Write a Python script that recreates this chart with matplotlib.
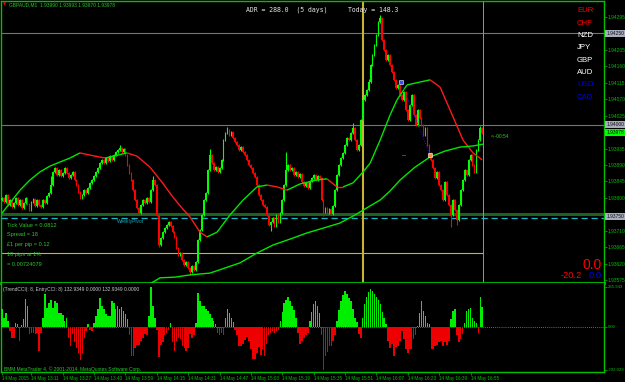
import matplotlib
matplotlib.use('Agg')
import matplotlib.pyplot as plt
from matplotlib.collections import LineCollection
from matplotlib.transforms import blended_transform_factory

# ---- values (GBPAUD M1, 14 May 2015, from 12:56) ----
title_txt = 'GBPAUD,M1  1.93990 1.93993 1.93970 1.93978'
first_open = 1.93795
closes = [
    1.93800, 1.93789, 1.93808, 1.93780, 1.93794, 1.93775, 1.93786, 1.93800, 1.93780, 1.93794,
    1.93772, 1.93786, 1.93800, 1.93783, 1.93767, 1.93789, 1.93797, 1.93778, 1.93794, 1.93780,
    1.93775, 1.93794, 1.93786, 1.93805, 1.93813, 1.93835, 1.93871, 1.93882, 1.93862, 1.93876,
    1.93860, 1.93868, 1.93882, 1.93868, 1.93854, 1.93862, 1.93871, 1.93849, 1.93835, 1.93816,
    1.93800, 1.93808, 1.93821, 1.93813, 1.93827, 1.93841, 1.93849, 1.93860, 1.93871, 1.93882,
    1.93895, 1.93904, 1.93895, 1.93909, 1.93901, 1.93915, 1.93904, 1.93917, 1.93925, 1.93931,
    1.93936, 1.93925, 1.93934, 1.93917, 1.93890, 1.93868, 1.93849, 1.93821, 1.93794, 1.93772,
    1.93758, 1.93780, 1.93794, 1.93786, 1.93800, 1.93789, 1.93821, 1.93849, 1.93835, 1.93753,
    1.93671, 1.93690, 1.93706, 1.93717, 1.93726, 1.93734, 1.93723, 1.93706, 1.93693, 1.93663,
    1.93644, 1.93649, 1.93630, 1.93616, 1.93624, 1.93608, 1.93597, 1.93613, 1.93602, 1.93624,
    1.93685, 1.93712, 1.93753, 1.93794, 1.93813, 1.93876, 1.93917, 1.93895, 1.93876, 1.93884,
    1.93871, 1.93882, 1.93904, 1.93958, 1.93977, 1.93986, 1.93972, 1.93980, 1.93964, 1.93953,
    1.93945, 1.93931, 1.93939, 1.93925, 1.93917, 1.93904, 1.93890, 1.93882, 1.93868, 1.93857,
    1.93835, 1.93808, 1.93794, 1.93780, 1.93775, 1.93753, 1.93726, 1.93734, 1.93745, 1.93723,
    1.93753, 1.93734, 1.93758, 1.93794, 1.93835, 1.93876, 1.93890, 1.93876, 1.93882, 1.93862,
    1.93871, 1.93857, 1.93865, 1.93843, 1.93832, 1.93841, 1.93827, 1.93846, 1.93854, 1.93862,
    1.93849, 1.93860, 1.93854, 1.93794, 1.93761, 1.93772, 1.93758, 1.93769, 1.93756, 1.93778,
    1.93821, 1.93862, 1.93890, 1.93909, 1.93923, 1.93945, 1.93964, 1.93958, 1.93977, 1.93991,
    1.93958, 1.93931, 1.93945, 1.94013, 1.94068, 1.94081, 1.94095, 1.94117, 1.94164, 1.94191,
    1.94218, 1.94246, 1.94281, 1.94292, 1.94232, 1.94205, 1.94177, 1.94191, 1.94164, 1.94144,
    1.94123, 1.94101, 1.94109, 1.94081, 1.94068, 1.94090, 1.94040, 1.94013, 1.94054, 1.94081,
    1.94027, 1.93999, 1.94040, 1.94019, 1.93999, 1.93972, 1.93991, 1.93945, 1.93923, 1.93904,
    1.93882, 1.93854, 1.93871, 1.93835, 1.93821, 1.93794, 1.93843, 1.93808, 1.93780, 1.93753,
    1.93794, 1.93767, 1.93739, 1.93780, 1.93821, 1.93849, 1.93876, 1.93862, 1.93904, 1.93917,
    1.93890, 1.93871, 1.93931, 1.93958, 1.93991, 1.93978,
]
high_spikes = {25: 1.93860, 60: 1.93945, 77: 1.93860, 106: 1.93935, 115: 1.93995,
               145: 1.93925, 179: 1.94005, 187: 1.94125, 193: 1.94300, 244: 1.93998}
low_spikes = {80: 1.93665, 96: 1.93588, 137: 1.93710, 164: 1.93750, 229: 1.93720, 232: 1.93725}

fast_ma_idx = [0, 4.1, 9.2, 14.3, 19.4, 24.5, 29.6, 34.7, 39.8, 44.9, 52.6, 59.2, 63.8, 68.9,
               75.5, 81.6, 87.2, 91.8, 95.9, 101, 104.6, 109.7, 116.3, 123, 130.1, 135.2, 140.3,
               145.4, 152, 160.7, 165.8, 170.9, 174, 179.1, 184.2, 187.8, 192.9, 198, 201.5,
               206.6, 213.3, 218.4, 223.5, 228.6, 235.2, 240.3, 244.9]
fast_ma_val = [1.93758, 1.93786, 1.93821, 1.93849, 1.93871, 1.93887, 1.93898, 1.93909, 1.93923,
               1.93917, 1.93909, 1.93917, 1.93923, 1.93914, 1.93884, 1.93843, 1.93802, 1.93772,
               1.93748, 1.93706, 1.93693, 1.93706, 1.93753, 1.93794, 1.93830, 1.93835, 1.93830,
               1.93821, 1.93838, 1.93849, 1.93852, 1.93830, 1.93830, 1.93841, 1.93871, 1.93895,
               1.93958, 1.94027, 1.94068, 1.94109, 1.94117, 1.94123, 1.94103, 1.94040, 1.93958,
               1.93923, 1.93904]
slow_ma_idx = [70.4, 80.6, 88.3, 95.9, 106.1, 113.8, 121.4, 130.1, 138.3, 146.9, 155.6, 163.8,
               172.4, 180.1, 187.8, 192.9, 198, 203.1, 210.7, 218.4, 226, 233.7, 240.3, 245.4]
slow_ma_val = [1.93548, 1.93581, 1.93583, 1.93589, 1.93594, 1.93608, 1.93622, 1.93649, 1.93671,
               1.93687, 1.93704, 1.93717, 1.93731, 1.93753, 1.93778, 1.93794, 1.93819, 1.93849,
               1.93884, 1.93912, 1.93928, 1.93939, 1.93942, 1.93947]

cci_hist = [
    120, 60, 94, 40, -27, -74, -74, 27, 20, -100,
    10, 54, 188, 141, -47, -40, -40, -47, -40, -161,
    -40, 60, 222, 128, 155, 181, 128, 175, 155, 94,
    94, 80, 40, 60, -74, -128, -47, -107, -141, -175,
    -228, -175, -74, -27, 20, -20, -27, 27, 74, 121,
    195, 141, 121, 87, 74, 74, 175, 155, 121, 141,
    121, 134, 107, 87, 54, -60, -195, -195, -141, -121,
    -121, -100, -74, -47, -60, 74, 265.943, 141, 60, -20,
    -208, -121, -107, -60, -40, -20, 27, -107, -161, -100,
    -74, -87, -128, -141, -161, -141, -47, -74, -60, 27,
    228, 175, 141, 141, 121, 107, 87, 60, 40, 20,
    -40, -54, -40, -54, 60, 120, 90, 60, 30, -20,
    -60, -128, -128, -115, -90, -70, -100, -150, -215, -215,
    -180, -140, -190, -150, -195, -120, -60, -40, -30, -40,
    -27, -20, 40, 100, 160, 180, 200, 175, 140, 110,
    60, -40, -115, -100, -80, -60, -40, 40, 100, 150,
    175, 140, 90, -60, -292.029, -195, -170, -128, -128, -100,
    -54, 40, 110, 170, 210, 240, 220, 190, 170, 120,
    60, 30, -50, -74, 60, 150, 200, 230, 250, 240,
    220, 200, 180, 150, 100, 60, 20, -100, -141, -120,
    -195, -140, -128, -94, -27, -87, -148, -175, -148, -148,
    -87, -60, 7, 94, 175, 107, 74, 27, 20, -148,
    -148, -128, -121, -107, -100, -128, -107, -121, -100, 54,
    107, 121, -60, -107, -87, -47, 27, 107, 121, 128,
    60, 40, 22, -40, 202, 132.9349,
]

time_tick_idx = [0, 15, 31, 47, 63, 79, 95, 111, 127, 143, 159, 175, 191, 207, 223, 239]
time_tick_lbl = ['14 May 2015', '14 May 13:11', '14 May 13:27', '14 May 13:43', '14 May 13:59',
                 '14 May 14:15', '14 May 14:31', '14 May 14:47', '14 May 15:03', '14 May 15:19',
                 '14 May 15:35', '14 May 15:51', '14 May 16:07', '14 May 16:23', '14 May 16:39',
                 '14 May 16:55']
price_ticks = [1.94295, 1.94250, 1.94205, 1.94160, 1.94115, 1.94070, 1.94025, 1.93980, 1.93935,
               1.93890, 1.93845, 1.93800, 1.93755, 1.93710, 1.93665, 1.93620, 1.93575]
cci_ticks = [265.943, 0.0, -292.029]
cci_tick_lbl = ['265.943', '0.00', '-292.029']

round_levels = [1.94250, 1.94000]
weekly_pivot = 1.93750
pivot_band = 1.93757
pivot_dash = 1.93745
day_level = 1.93649
last_price = 1.93978
day_start_idx = 184
now_idx = 245.4
fractal_pts = [(203.6, 1.94117), (218.4, 1.93917)]

currencies = ['EUR', 'CHF', 'NZD', 'JPY', 'GBP', 'AUD', 'USD', 'CAD']
cur_colors = ['#ff0000', '#ff0000', 'white', 'white', 'white', 'white', '#0000e6', '#0000e6']
info_lines = ['Tick Value = 0.0812', 'Spread = 18', '\u00a31 per pip = 0.12', '10 pips at 1%',
              '= 0.00724079']

# ---- figure ----
W, H = 625, 382
grn = '#00c000'
txtgrn = '#2ec82e'
sm = 'Liberation Sans'
fs = 3.5
fig = plt.figure(figsize=(W / 100, H / 100), dpi=100, facecolor='black')


def fx(x):
    return x / W


def fy(y):
    return 1 - y / H


ax = fig.add_axes([fx(1), fy(283), fx(604) - fx(1), fy(1) - fy(283)], facecolor='black')
ax2 = fig.add_axes([fx(1), fy(372), fx(604) - fx(1), fy(283) - fy(372)], facecolor='black')

xmin, xmax = -0.5, 307.1
ax.set_xlim(xmin, xmax)
ax2.set_xlim(xmin, xmax)
ax.set_ylim(1.935669, 1.943388)
ax2.set_ylim(-305.5, 292.8)

# levels
for lv in round_levels:
    ax.axhline(lv, color='#72728a', lw=0.8, zorder=1)
ax.axhline(pivot_band, color='#1f5f1f', lw=2.2, zorder=1)
ax.axhline(pivot_dash, color='#1ab4c8', lw=0.9, ls=(0, (5, 3)), zorder=1)
ax.plot([xmin, now_idx], [day_level, day_level], color='#c8b432', lw=0.8, zorder=1)
ax.axvline(day_start_idx, color='#c8b432', lw=1.5, zorder=1)
ax.axvline(now_idx, color='#00ff00', lw=0.7, zorder=1)

# candles
idx = list(range(len(closes)))
opens = [first_open] + closes[:-1]
highs, lows, cols, bots, hts = [], [], [], [], []
for i, (o, c) in enumerate(zip(opens, closes)):
    hi = high_spikes.get(i, max(o, c) + 0.00003)
    lo = low_spikes.get(i, min(o, c) - 0.00003)
    highs.append(hi)
    lows.append(lo)
    cols.append('#00ff00' if c >= o else '#ff0000')
    bots.append(min(o, c))
    hts.append(max(abs(c - o), 0.000015))
ax.vlines(idx, lows, highs, colors=cols, lw=0.8, zorder=3)
ax.bar(idx, hts, bottom=bots, width=0.85, color=cols, zorder=3)

# moving averages, fast one coloured by slope
segs, scol = [], []
for k in range(len(fast_ma_idx) - 1):
    segs.append([(fast_ma_idx[k], fast_ma_val[k]), (fast_ma_idx[k + 1], fast_ma_val[k + 1])])
    scol.append('#00e600' if fast_ma_val[k + 1] > fast_ma_val[k] else '#ff1a1a')
ax.add_collection(LineCollection(segs, colors=scol, lw=1.0, zorder=4))
ax.plot(slow_ma_idx, slow_ma_val, color='#00e600', lw=1.0, zorder=4)

# fractal zigzag markers
fxs = [p[0] for p in fractal_pts]
fys = [p[1] for p in fractal_pts]
ax.plot(fxs, fys, color='#1a1acc', lw=0.7, ls=(0, (1, 1.5)), zorder=5)
ax.plot(fxs[0], fys[0], 's', ms=2.2, mfc='#3050ff', mec='white', mew=0.4, zorder=6)
ax.plot(fxs[1], fys[1], 's', ms=2.2, mfc='#ff9030', mec='white', mew=0.4, zorder=6)
ax.plot([204.1, 205.6], [fys[1], fys[1]], color='#ff0000', lw=0.7, zorder=5)

# right price axis (labels hidden where a level box sits on top, as in MT4)
boxed = [1.94250, 1.93980, 1.93755]
ax.yaxis.tick_right()
ax.set_yticks(price_ticks)
ax.set_yticklabels(['' if t in boxed else f'{t:.5f}' for t in price_ticks], family=sm)
ax.tick_params(axis='y', colors=grn, labelsize=fs, length=2, width=0.5, pad=0.8)
ax.set_xticks([])
for sp in ax.spines.values():
    sp.set_color(grn)
    sp.set_linewidth(1.0)
ax.spines['bottom'].set_linewidth(2.0)

tr = blended_transform_factory(ax.transAxes, ax.transData)
for lv in round_levels + [weekly_pivot]:
    ax.text(1.004, lv, f'{lv:.5f}', transform=tr, fontsize=fs, family=sm, color='#101010',
            va='center', ha='left', clip_on=False, zorder=7,
            bbox=dict(boxstyle='square,pad=0.2', fc='#a8acbc', ec='none'))
ax.text(1.004, last_price, f'{last_price:.5f}', transform=tr, fontsize=fs, family=sm,
        color='black', va='center', ha='left', clip_on=False, zorder=7,
        bbox=dict(boxstyle='square,pad=0.2', fc='#00ff00', ec='none'))

# indicator panel
hcols = ['#00ee00' if v >= 0 else '#ee0000' for v in cci_hist]
ax2.bar(idx, cci_hist, width=0.8, color=hcols, zorder=3)
ax2.axhline(0, color='#8a8a8a', lw=0.6, ls=(0, (1, 1.5)), zorder=2)
ax2.yaxis.tick_right()
ax2.set_yticks(cci_ticks)
ax2.set_yticklabels(cci_tick_lbl, family=sm)
ax2.tick_params(axis='y', colors=grn, labelsize=3.1, length=2, width=0.5, pad=0.6)
ax2.set_xticks(time_tick_idx)
ax2.set_xticklabels(time_tick_lbl, ha='left', family=sm)
ax2.tick_params(axis='x', colors=grn, labelsize=3.3, length=2, width=0.5, pad=1)
for sp in ax2.spines.values():
    sp.set_color(grn)
    sp.set_linewidth(1.0)
ax2.spines['top'].set_visible(False)

# ---- texts ----
fig.text(fx(3), fy(5), '\u25bc', color='#ff0000', fontsize=3, va='center', ha='left')
fig.text(fx(9), fy(5), title_txt, color=txtgrn, fontsize=fs, family=sm, va='center', ha='left')
fig.text(fx(246), fy(10), 'ADR = 288.0  (5 days)', color='#e6e6e6', fontsize=4.7,
         family='DejaVu Sans Mono', va='center', ha='left')
fig.text(fx(348), fy(10), 'Today = 148.3', color='#e6e6e6', fontsize=4.7,
         family='DejaVu Sans Mono', va='center', ha='left')
for k, (name, col) in enumerate(zip(currencies, cur_colors)):
    fig.text(fx(577), fy(11 + k * 12.3), name, color=col, fontsize=5.6,
             family=sm, va='center', ha='left')
for k, line in enumerate(info_lines):
    fig.text(fx(7), fy(225 + k * 9.8), line, color=txtgrn, fontsize=4.1, family=sm,
             va='center', ha='left')
fig.text(fx(117), fy(222), 'WeeklyPivot', color='#1aa8b8', fontsize=fs, family=sm,
         va='center', ha='left')
fig.text(fx(491), fy(137), '<--00:54', color=txtgrn, fontsize=fs, family=sm,
         va='center', ha='left')
fig.text(fx(602), fy(265), '0.0', color='#ff0000', fontsize=10, family=sm,
         va='center', ha='right')
fig.text(fx(582), fy(275), '-20.2', color='#ff0000', fontsize=6.7, family=sm,
         va='center', ha='right')
fig.text(fx(602), fy(275), '0.0', color='#0000ff', fontsize=6.7, family=sm,
         va='center', ha='right')
fig.text(fx(3), fy(289), '(TrendCCI(: 8, EntryCCI: 8) 132.9349 0.0000 132.9349 0.0000',
         color='#c8c8c8', fontsize=fs, family=sm, va='center', ha='left')
fig.text(fx(4), fy(369), 'BMM MetaTrader 4, \u00a9 2001-2014, MetaQuotes Software Corp.',
         color=txtgrn, fontsize=fs, family=sm, va='center', ha='left')

fig.savefig('out.png', dpi=100, facecolor='black')
